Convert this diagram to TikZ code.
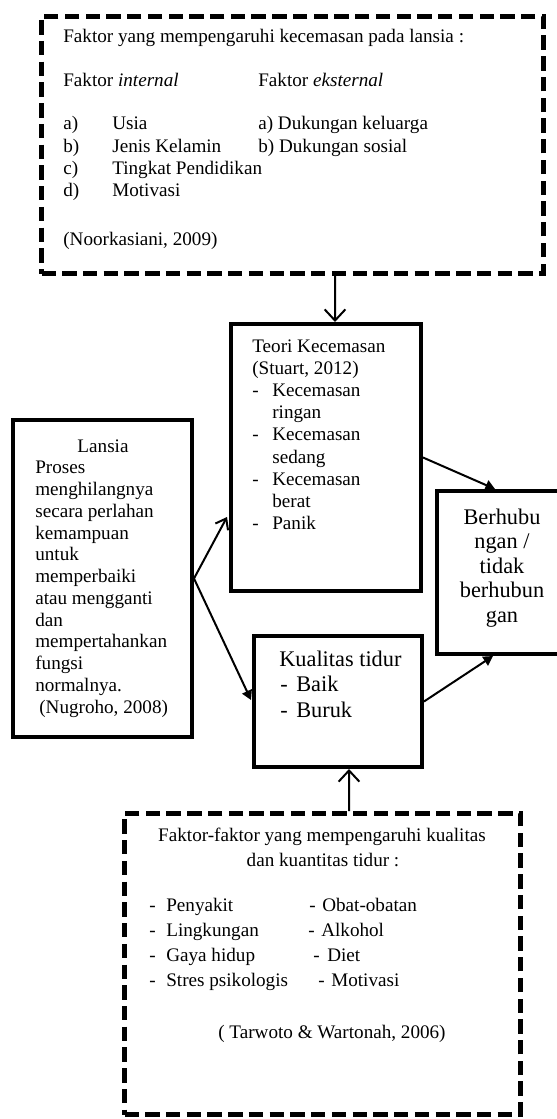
\documentclass[tikz,border=0pt]{standalone}
\usepackage{fontspec}
\setmainfont{Liberation Serif}
\usetikzlibrary{arrows.meta,fit}
\tikzset{
  solidbox/.style={draw, line width=2.5pt, inner sep=0pt},
  dashbox/.style={draw, line width=3.1pt, dash pattern=on 9pt off 4pt, inner sep=0pt},
  txt/.style={anchor=base west, inner sep=0pt, font=\fontsize{12}{13.8}\selectfont},
  txtc/.style={anchor=base, inner sep=0pt, font=\fontsize{12}{13.8}\selectfont},
  bigtxt/.style={anchor=base west, inner sep=0pt, font=\fontsize{14}{16}\selectfont},
  bigtxtc/.style={anchor=base, inner sep=0pt, font=\fontsize{14}{16}\selectfont},
  conn/.style={line width=1.25pt},
  tri/.style={conn, -{Triangle[length=6pt,width=6.5pt]}},
  barb/.style={conn, -{Straight Barb[length=7pt,width=13pt]}},
  smallbarb/.style={conn, -{Straight Barb[length=6pt,width=9pt]}},
}
\begin{document}
\begin{tikzpicture}[x=0.627pt, y=-0.627pt]
\useasboundingbox (0,0) rectangle (556,1119);
% boxes
\node[dashbox, fit={(41.5,16.5) (543.5,273.5)}] (topbox) {};
\node[solidbox, fit={(231,324) (421,591)}] (teori) {};
\node[solidbox, fit={(13,420) (192,737)}] (lansia) {};
\node[solidbox, fit={(437,491) (567,654)}] (berh) {};
\node[solidbox, fit={(254,636) (422,767)}] (kual) {};
\node[dashbox, fit={(124.5,813.5) (520.5,1114.5)}] (botbox) {};
% top box text
\node[txt] (t1) at (63,43) {Faktor yang mempengaruhi kecemasan pada lansia :};
\node[txt] (t2) at (63,87) {Faktor \textit{internal}};
\node[txt] (t3) at (258,87) {Faktor \textit{eksternal}};
\foreach \l/\w [count=\i from 0] in {a)/Usia, b)/Jenis Kelamin, c)/Tingkat Pendidikan, d)/Motivasi}{
  \node[txt] (tl\i) at (63,{130+22*\i}) {\l};
  \node[txt] (tw\i) at (112,{130+22*\i}) {\w};
}
\node[txt] (te0) at (258,130) {a) Dukungan keluarga};
\node[txt] (te1) at (258,152) {b) Dukungan sosial};
\node[txt] (tref) at (63,245) {(Noorkasiani, 2009)};
% teori text
\node[txt] (k1) at (252,352) {Teori Kecemasan};
\node[txt] (k2) at (252,374) {(Stuart, 2012)};
\foreach \y in {396,440,485,529} \node[txt] (kd\y) at (252,\y) {-};
\node[txt] (k3) at (272,396) {Kecemasan};
\node[txt] (k4) at (272,418) {ringan};
\node[txt] (k5) at (272,440) {Kecemasan};
\node[txt] (k6) at (272,463) {sedang};
\node[txt] (k7) at (272,485) {Kecemasan};
\node[txt] (k8) at (272,507) {berat};
\node[txt] (k9) at (272,529) {Panik};
% lansia text
\node[txtc] (ltitle) at (103,452) {Lansia};
\foreach \t [count=\i from 0] in {Proses, menghilangnya, secara perlahan, kemampuan, untuk, memperbaiki, atau mengganti, dan, mempertahankan, fungsi, normalnya.}
  \node[txt] (lan\i) at (35,{473.8+21.75*\i}) {\t};
\node[txt] (lref) at (39,713) {(Nugroho, 2008)};
% berhubungan text
\foreach \t [count=\i from 0] in {Berhubu, ngan /, tidak, berhubun, gan}
  \node[bigtxtc] (b\i) at (502,{524+24.5*\i}) {\t};
% kualitas text
\node[bigtxt] (q1) at (279,666) {Kualitas tidur};
\node[bigtxt] (qd1) at (280,691) {-};
\node[bigtxt] (qd2) at (280,717) {-};
\node[bigtxt] (q2) at (296,691) {Baik};
\node[bigtxt] (q3) at (296,717) {Buruk};
% bottom box text
\node[txtc] (f1) at (322,841) {Faktor-faktor yang mempengaruhi kualitas};
\node[txtc] (f2) at (323,866) {dan kuantitas tidur :};
\foreach \w [count=\i from 0] in {Penyakit, Lingkungan, Gaya hidup, Stres psikologis}{
  \node[txt] (fd\i) at (149,{911+25.3*\i}) {-};
  \node[txt] (fw\i) at (166,{911+25.3*\i}) {\w};
}
\foreach \dx/\wx/\w [count=\i from 0] in {309/322/Obat-obatan, 308/321/Alkohol, 313/327/Diet, 318/331/Motivasi}{
  \node[txt] (gd\i) at (\dx,{911+25.3*\i}) {-};
  \node[txt] (gw\i) at (\wx,{911+25.3*\i}) {\w};
}
\node[txt] (fref) at (218,1038) {( Tarwoto \& Wartonah, 2006)};
% connectors
\draw[barb] ([shift={(42.5,0)}]topbox.south) -- ([shift={(9,0)}]teori.north);
\draw[barb] ([shift={(26.5,0)}]botbox.north) -- ([shift={(11,0)}]kual.south);
\draw[smallbarb] (lansia.east) -- ([shift={(-2,59.5)}]teori.west);
\draw[tri] (lansia.east) -- ([shift={(-1,-1.5)}]kual.west);
\draw[tri] (teori.east) -- ([shift={(-7,0)}]berh.north);
\draw[tri] (kual.east) -- ([shift={(-9,0)}]berh.south);
\end{tikzpicture}
\end{document}
